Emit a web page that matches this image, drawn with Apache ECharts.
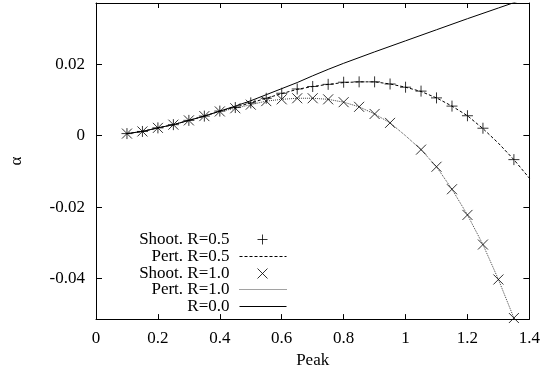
<!DOCTYPE html>
<html>
<head>
<meta charset="utf-8">
<script src="https://cdn.jsdelivr.net/npm/echarts@6/dist/echarts.min.js"></script>
<style>
  html, body { margin: 0; padding: 0; background: #fff; }
  #main { width: 543px; height: 374px; }
</style>
</head>
<body>
<div id="main"></div>
<script>
// shooting results, R=0.5 (+ markers)
const shoot05X = [0.10, 0.15, 0.20, 0.25, 0.30, 0.35, 0.40, 0.45, 0.50, 0.55, 0.60, 0.65, 0.70, 0.75, 0.80, 0.85, 0.90, 0.95, 1.00, 1.05, 1.10, 1.15, 1.20, 1.25, 1.35]
const shoot05Y = [0.0006, 0.0012, 0.0022, 0.0031, 0.0043, 0.0055, 0.0069, 0.0079, 0.0092, 0.0105, 0.0119, 0.0131, 0.0138, 0.0144, 0.0150, 0.0151, 0.0151, 0.0145, 0.0136, 0.0125, 0.0106, 0.0083, 0.0056, 0.0021, -0.0067]

// perturbative curve, R=0.5 (dashed)
const pert05X = [0.10, 0.15, 0.20, 0.25, 0.30, 0.35, 0.40, 0.45, 0.50, 0.55, 0.60, 0.65, 0.70, 0.75, 0.80, 0.85, 0.90, 0.95, 1.00, 1.05, 1.10, 1.15, 1.20, 1.25, 1.30, 1.35, 1.40]
const pert05Y = [0.0006, 0.0012, 0.0022, 0.0031, 0.0043, 0.0055, 0.0069, 0.0080, 0.0092, 0.0105, 0.0118, 0.0130, 0.0138, 0.0144, 0.0149, 0.0151, 0.0151, 0.0145, 0.0136, 0.0124, 0.0106, 0.0083, 0.0056, 0.0020, -0.0021, -0.0067, -0.0119]

// shooting results, R=1.0 (x markers)
const shoot10X = [0.10, 0.15, 0.20, 0.25, 0.30, 0.35, 0.40, 0.45, 0.50, 0.55, 0.60, 0.65, 0.70, 0.75, 0.80, 0.85, 0.90, 0.95, 1.05, 1.10, 1.15, 1.20, 1.25, 1.30, 1.35]
const shoot10Y = [0.0006, 0.0012, 0.0022, 0.0031, 0.0043, 0.0055, 0.0068, 0.0077, 0.0087, 0.0097, 0.0102, 0.0105, 0.0105, 0.0102, 0.0094, 0.0081, 0.0061, 0.0036, -0.0039, -0.0087, -0.0150, -0.0222, -0.0305, -0.0403, -0.0511]

// perturbative curve, R=1.0 (dotted)
const pert10X = [0.10, 0.15, 0.20, 0.25, 0.30, 0.35, 0.40, 0.45, 0.50, 0.55, 0.60, 0.65, 0.70, 0.75, 0.80, 0.85, 0.90, 0.95, 1.00, 1.05, 1.10, 1.15, 1.20, 1.25, 1.30, 1.35, 1.37]
const pert10Y = [0.0006, 0.0012, 0.0022, 0.0031, 0.0043, 0.0055, 0.0068, 0.0077, 0.0087, 0.0097, 0.0102, 0.0105, 0.0105, 0.0102, 0.0094, 0.0081, 0.0061, 0.0036, 0.0000, -0.0039, -0.0087, -0.0150, -0.0222, -0.0305, -0.0403, -0.0511, -0.0560]

// R=0.0 (solid)
const r00X = [0.10, 0.15, 0.20, 0.25, 0.30, 0.35, 0.40, 0.45, 0.50, 0.55, 0.60, 0.65, 0.70, 0.75, 0.80, 0.90, 1.00, 1.10, 1.20, 1.30, 1.40]
const r00Y = [0.0006, 0.0012, 0.0022, 0.0031, 0.0043, 0.0055, 0.0069, 0.0083, 0.0098, 0.0115, 0.0132, 0.0149, 0.0168, 0.0186, 0.0203, 0.0235, 0.0266, 0.0297, 0.0328, 0.0358, 0.0388]

const yTicks = [-0.04, -0.02, 0, 0.02]
const legendNames = ['Shoot. R=0.5', 'Pert. R=0.5', 'Shoot. R=1.0', 'Pert. R=1.0', 'R=0.0']

const zip = (xs, ys) => xs.map((x, i) => [x, ys[i]])

const font = 'Liberation Serif'
// open strokes, drawn with the border colour
const plusPath = 'path://M0,5L10,5M5,0L5,10'
const crossPath = 'path://M0,0L10,10M10,0L0,10'

const chart = echarts.init(document.getElementById('main'), null, { renderer: 'canvas' })

const axisLine = { show: true, onZero: false, lineStyle: { color: '#000', width: 1 } }
const xTick = { show: true, inside: true, length: 5, lineStyle: { color: '#000' } }
const yTick = { show: true, inside: true, length: 6, lineStyle: { color: '#000' }, customValues: yTicks }

// key samples, same order as legendNames
const keyLines = [
    { width: 1 },
    { width: 1, color: '#000', type: [3, 2] },
    { width: 1 },
    { width: 1, color: '#444', type: [1, 1] },
    { width: 1, color: '#000', type: 'solid' }
]

// one legend per row so the text lines up on the right like gnuplot's key
const legendRows = [240, 257, 274, 290, 307]
const isMarker = [true, false, true, false, false]
const legends = legendNames.map((name, i) => {
    const marker = isMarker[i]
    return {
        data: [name],
        orient: 'vertical',
        right: marker ? 275 : 256,
        top: legendRows[i] - 9,
        align: 'right',
        padding: 0,
        itemWidth: marker ? 10 : 47,
        itemHeight: 10,
        selectedMode: false,
        itemStyle: marker ? { borderWidth: 1 } : { color: 'rgba(0,0,0,0)', borderWidth: 0 },
        lineStyle: keyLines[i],
        textStyle: { fontFamily: font, fontSize: 17, color: '#000', padding: [0, marker ? 23 : 5, 0, 0] }
    }
})

const option = {
    animation: false,
    backgroundColor: '#fff',
    grid: { left: 95, right: 13, top: 3, bottom: 52 },
    legend: legends,
    xAxis: [{
        type: 'value', min: 0, max: 1.4, interval: 0.2,
        name: 'Peak', nameLocation: 'middle', nameGap: 30,
        nameTextStyle: { fontFamily: font, fontSize: 17, color: '#000' },
        axisLine: axisLine, axisTick: xTick,
        axisLabel: { fontFamily: font, fontSize: 17, color: '#000', margin: 11 },
        splitLine: { show: false }
    }, {
        type: 'value', position: 'top', min: 0, max: 1.4, interval: 0.2,
        axisLine: axisLine, axisTick: xTick,
        axisLabel: { show: false }, splitLine: { show: false }
    }],
    yAxis: [{
        type: 'value', min: -0.0514, max: 0.0372,
        name: 'α', nameLocation: 'middle', nameGap: 71, nameRotate: 90,
        nameTextStyle: { fontFamily: font, fontSize: 17, color: '#000' },
        axisLine: axisLine, axisTick: yTick,
        axisLabel: { fontFamily: font, fontSize: 17, color: '#000', margin: 11, customValues: yTicks },
        splitLine: { show: false }
    }, {
        type: 'value', position: 'right', min: -0.0514, max: 0.0372,
        axisLine: axisLine, axisTick: yTick,
        axisLabel: { show: false }, splitLine: { show: false }
    }],
    series: [{
        name: 'Shoot. R=0.5', type: 'scatter', data: zip(shoot05X, shoot05Y),
        symbol: plusPath, symbolSize: 11,
        itemStyle: { color: 'rgba(0,0,0,0)', borderColor: '#000', borderWidth: 1 }, z: 5
    }, {
        name: 'Pert. R=0.5', type: 'line', data: zip(pert05X, pert05Y),
        symbol: 'none', smooth: false,
        lineStyle: { color: '#000', width: 1, type: [3, 2] }, itemStyle: { color: '#000' }
    }, {
        name: 'Shoot. R=1.0', type: 'scatter', data: zip(shoot10X, shoot10Y),
        symbol: crossPath, symbolSize: 10,
        itemStyle: { color: 'rgba(0,0,0,0)', borderColor: '#000', borderWidth: 1 }, z: 5
    }, {
        name: 'Pert. R=1.0', type: 'line', data: zip(pert10X, pert10Y),
        symbol: 'none', smooth: false,
        lineStyle: { color: '#444', width: 1, type: [1, 1] }, itemStyle: { color: '#444' }
    }, {
        name: 'R=0.0', type: 'line', data: zip(r00X, r00Y),
        symbol: 'none', smooth: false,
        lineStyle: { color: '#000', width: 1 }, itemStyle: { color: '#000' }
    }]
}

chart.setOption(option)
</script>
</body>
</html>
